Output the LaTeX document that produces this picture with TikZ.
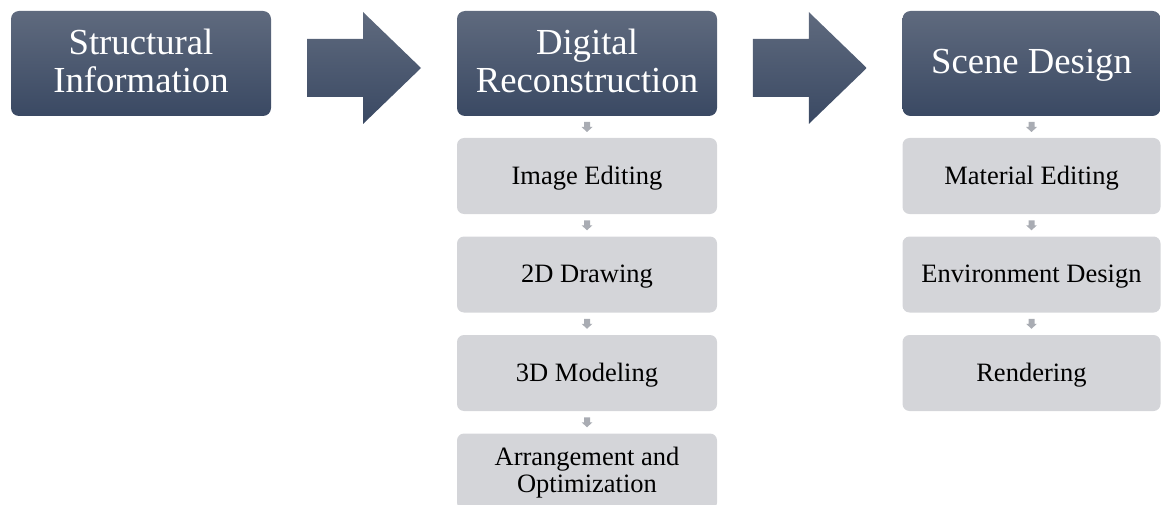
\documentclass[tikz,border=0pt]{standalone}
\usepackage{fontspec}
\setmainfont{Liberation Serif}
\usetikzlibrary{calc}
\definecolor{stagetop}{HTML}{5F6A7E}
\definecolor{stagebot}{HTML}{3A4963}
\definecolor{taskfill}{HTML}{D4D5D9}
\definecolor{cuefill}{HTML}{A9ACB3}
\tikzset{
  stage/.style={rounded corners=8pt, top color=stagetop, bottom color=stagebot,
    text=white, font=\fontsize{36.7}{38}\selectfont, align=center,
    minimum height=105pt, inner sep=0pt, text height=24pt, text depth=3pt},
  stagetwo/.style={stage, text height=62pt},
  task/.style={rounded corners=7pt, fill=taskfill, text=black,
    font=\fontsize{26.5}{27}\selectfont, align=center,
    minimum height=76pt, inner sep=0pt, text height=18pt, text depth=1.5pt},
  tasktwo/.style={task, text height=42.5pt},
  downcue/.pic={\fill[cuefill] (-3,-5) -- (3,-5) -- (3,0) -- (5.5,0) -- (0,5)
    -- (-5.5,0) -- (-3,0) -- cycle;},
  bigarrow/.pic={\path[top color=stagetop, bottom color=stagebot]
    (-57,-29) -- (-1,-29) -- (-1,-56) -- (57,0) -- (-1,56) -- (-1,29)
    -- (-57,29) -- cycle;}
}
\begin{document}
\begin{tikzpicture}[x=1pt,y=-1pt]
\useasboundingbox (0,0) rectangle (1161,505);

% main stages
\node[stagetwo, minimum width=260pt] (s1) at (141,63.5) {Structural\\Information};
\node[stagetwo, minimum width=260pt] (s2) at (587,63.5) {Digital\\Reconstruction};
\node[stage, minimum width=258pt] (s3) at (1031.5,63.5) {Scene Design};

% arrows between stages
\pic at ($(s1.east)!0.5!(s2.west)+(0,4.5)$) {bigarrow};
\pic at ($(s2.east)!0.5!(s3.west)+(0,4.5)$) {bigarrow};

% digital reconstruction steps
\node[task, minimum width=260pt] (a1) at (587,176) {Image Editing};
\node[task, minimum width=260pt] (a2) at (587,274.5) {2D Drawing};
\node[task, minimum width=260pt] (a3) at (587,373) {3D Modeling};
\node[tasktwo, minimum width=260pt] (a4) at (587,471.5) {Arrangement and\\Optimization};

% scene design steps
\node[task, minimum width=258pt] (b1) at (1031.5,176) {Material Editing};
\node[task, minimum width=258pt] (b2) at (1031.5,274.5) {Environment Design};
\node[task, minimum width=258pt] (b3) at (1031.5,373) {Rendering};

% small down arrows
\pic at ($(s2.south)!0.5!(a1.north)$) {downcue};
\pic at ($(a1.south)!0.5!(a2.north)$) {downcue};
\pic at ($(a2.south)!0.5!(a3.north)$) {downcue};
\pic at ($(a3.south)!0.5!(a4.north)$) {downcue};
\pic at ($(s3.south)!0.5!(b1.north)$) {downcue};
\pic at ($(b1.south)!0.5!(b2.north)$) {downcue};
\pic at ($(b2.south)!0.5!(b3.north)$) {downcue};
\end{tikzpicture}
\end{document}
